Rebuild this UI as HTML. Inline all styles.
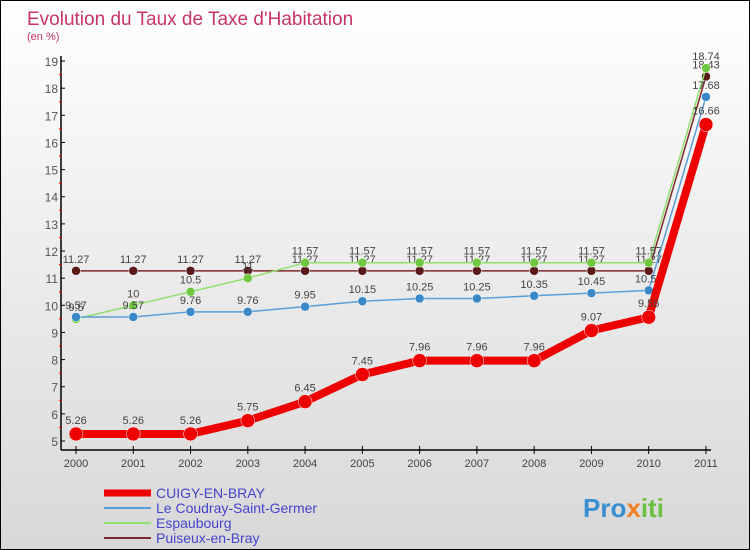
<!DOCTYPE html>
<html><head><meta charset="utf-8"><style>
body{margin:0}
#c{width:748px;height:548px;border:1px solid #000;background:linear-gradient(#fff,#d8d8d8);position:relative;overflow:hidden;font-family:"Liberation Sans",sans-serif}
text{font-family:"Liberation Sans",sans-serif}
</style></head><body>
<div id="c">
<svg id="s" width="748" height="548">
<text x="26" y="24" font-size="19" fill="#c8346a">Evolution du Taux de Taxe d'Habitation</text>
<text x="26" y="39" font-size="11" fill="#c8346a">(en %)</text>
<g id="axes"></g><g id="series"></g><g id="legend"></g>
<text x="582" y="516" font-size="26" font-weight="bold" fill="#3a8fd0">Pro<tspan fill="#f08020">x</tspan><tspan fill="#6cc040">iti</tspan></text>
</svg></div>
<script>
const years=[2000,2001,2002,2003,2004,2005,2006,2007,2008,2009,2010,2011];
const yTicks=[5,6,7,8,9,10,11,12,13,14,15,16,17,18,19];
const names=["CUIGY-EN-BRAY","Le Coudray-Saint-Germer","Espaubourg","Puiseux-en-Bray"];
const cuigy=[5.26,5.26,5.26,5.75,6.45,7.45,7.96,7.96,7.96,9.07,9.56,16.66];
const coudray=[9.57,9.57,9.76,9.76,9.95,10.15,10.25,10.25,10.35,10.45,10.55,17.68];
const espaubourg=[9.5,10,10.5,11,11.57,11.57,11.57,11.57,11.57,11.57,11.57,18.74];
const puiseux=[11.27,11.27,11.27,11.27,11.27,11.27,11.27,11.27,11.27,11.27,11.27,18.43];
const NS="http://www.w3.org/2000/svg";
const X=i=>75+i*57.27, Y=v=>440-(v-5)*27.14;
function mk(t,a,p){const e=document.createElementNS(NS,t);for(const k in a)e.setAttribute(k,a[k]);p.appendChild(e);return e;}
const ax=document.getElementById('axes');
let e=mk('line',{x1:60,y1:55,x2:60,y2:449,stroke:'#000','stroke-width':1.5},ax);

e=mk('line',{x1:60,y1:449,x2:710,y2:449,stroke:'#000','stroke-width':1.5},ax);

yTicks.forEach(v=>{
 mk('line',{x1:60,y1:Y(v),x2:64,y2:Y(v),stroke:'#000'},ax);
 if(v<19)mk('line',{x1:58,y1:Y(v+0.5),x2:61,y2:Y(v+0.5),stroke:'#e00'},ax);
 const t=mk('text',{x:57,y:Y(v)+5,'font-size':12,fill:'#555','text-anchor':'end'},ax);t.textContent=v;
 
});
years.forEach((y,i)=>{
 mk('line',{x1:X(i),y1:445,x2:X(i),y2:453,stroke:'#000'},ax);
 const t=mk('text',{x:X(i),y:466,'font-size':11,fill:'#444','text-anchor':'middle'},ax);t.textContent=y;
 
});
const sg=document.getElementById('series');
const defs=[[puiseux,'#7a2a2a','#5a1a1a',1.5,4.5],[espaubourg,'#90e070','#70c840',1.5,4.5],[coudray,'#5a9ed8','#3a88c8',1.5,4.5],[cuigy,'#ee0000','#ee0000',8,7]];
defs.forEach(([d,c,pc,w,r],k)=>{
 const g=mk('g',{},sg);
 
 
 mk('polyline',{points:d.map((v,i)=>X(i)+','+Y(v)).join(' '),fill:'none',stroke:c,'stroke-width':w,'stroke-linejoin':'round'},g);
 d.forEach((v,i)=>{
  const p=mk('circle',{cx:X(i),cy:Y(v),r:r,fill:pc,stroke:'#fff','stroke-width':0.5},g);
  
  const t=mk('text',{x:X(i),y:Y(v)-(k==3?10:8),'font-size':11,fill:'#444','text-anchor':'middle'},g);t.textContent=v;
  
 });
});
const lg=document.getElementById('legend');
const lc=[['#ee0000',7],['#5a9ed8',2],['#90e070',2],['#7a2a2a',2]];
names.forEach((n,i)=>{
 const yy=492+i*15;
 const l=mk('line',{x1:103,y1:yy,x2:150,y2:yy,stroke:lc[i][0],'stroke-width':lc[i][1]},lg);
 
 const t=mk('text',{x:155,y:yy+5,'font-size':14,fill:'#4444cc'},lg);t.textContent=n;
 
});
</script>
</body></html>
